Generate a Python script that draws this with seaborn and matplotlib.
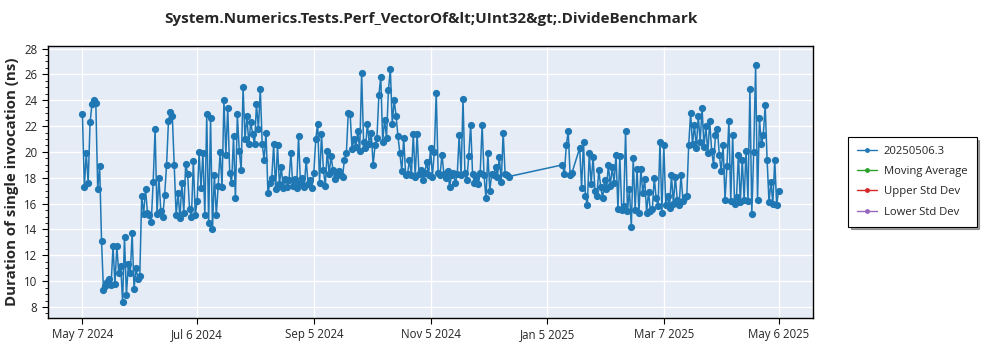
import numpy as np
import pandas as pd
import matplotlib
matplotlib.use("Agg")
import matplotlib.pyplot as plt
import matplotlib.dates as mdates
from matplotlib.lines import Line2D
from matplotlib.ticker import MultipleLocator
import seaborn as sns

# ---------------- data ----------------
title = "System.Numerics.Tests.Perf_VectorOf&lt;UInt32&gt;.DivideBenchmark"
ylabel = "Duration of single invocation (ns)"
series_name = "20250506.3"
legend_labels = ["20250506.3", "Moving Average", "Upper Std Dev", "Lower Std Dev"]

# daily runs, segment 1 starting 2024-05-07
seg1_start = "2024-05-07"
seg1_values = [
    22.9, 17.3, 19.9, 17.6, 22.3, 23.7, 24.0, 23.8, 17.1, 18.9,
    13.1, 9.3, 9.6, 9.9, 10.2, 9.7, 12.7, 9.8, 12.7, 10.6,
    11.2, 8.4, 13.4, 8.9, 11.3, 10.6, 13.7, 9.4, 11.0, 10.2,
    10.4, 16.6, 15.2, 17.1, 15.3, 15.1, 14.6, 17.7, 21.8, 15.2,
    18.0, 15.4, 15.0, 16.7, 19.0, 22.4, 23.1, 22.8, 19.0, 15.1,
    16.8, 14.9, 17.6, 15.3, 19.1, 18.3, 15.6, 15.0, 19.3, 15.1,
    16.2, 20.0, 17.2, 19.9, 15.1, 22.9, 14.5, 22.6, 14.0, 18.2,
    15.1, 17.4, 20.0, 17.3, 24.0, 19.8, 23.4, 18.4, 17.6, 21.2,
    16.4, 22.9, 20.1, 18.6, 25.0, 21.0, 22.8, 20.6, 22.3, 21.4,
    20.6, 23.7, 21.8, 24.9, 20.6, 19.4, 21.5, 16.8, 17.6, 18.0,
    20.6, 17.1, 20.5, 17.5, 18.8, 17.2, 17.9, 17.3, 17.8, 19.9,
    17.4, 17.9, 17.2, 21.2, 17.6, 18.0, 17.3, 19.4, 17.5, 17.8,
    17.2, 18.4, 21.0, 22.2, 17.6, 21.4, 18.6, 17.4, 20.1, 18.3,
    19.7, 18.6, 17.9, 18.2, 18.5, 18.2, 18.1, 19.4, 19.9, 23.0,
    22.9, 20.2, 21.0, 20.4, 21.6, 20.1, 26.1, 20.8, 20.3, 22.2,
    20.6, 21.5, 19.0, 20.5, 21.1, 24.4, 25.8, 20.8, 22.5, 21.1,
    24.8, 26.4, 22.2, 24.0, 22.8, 21.2, 19.9, 18.5, 21.1, 18.2,
    18.3, 19.4, 18.2, 21.4, 18.1, 21.4, 18.3, 18.6, 17.8, 18.4,
    19.2, 18.2, 20.3, 18.1, 20.0, 24.6, 18.4, 18.2, 19.8, 18.3,
    18.0, 18.5, 17.3, 18.2, 18.4, 17.6, 18.3, 21.3, 18.2, 24.1,
    18.4, 17.8, 19.7, 22.1, 18.3, 17.6, 18.1, 17.5, 18.4, 22.1,
    18.2, 16.4, 19.9, 17.0, 18.3, 18.2, 18.8, 18.1, 19.6, 17.7,
    21.5, 18.3, 18.2, 18.1,
]

seg2_start = "2025-01-13"
seg2_values = [19.0, 18.3, 20.5, 21.6, 18.2, 18.4]

seg3_start = "2025-01-22"
seg3_values = [
    20.3, 17.2, 20.8, 16.6, 15.9, 19.9, 17.5, 19.6, 17.0, 16.6,
    18.6, 17.3, 16.4, 17.8, 17.1, 19.0, 17.4, 18.8, 17.6, 19.8,
    15.6, 19.7, 15.5, 15.8, 21.6, 15.4, 17.1, 14.2, 19.5, 15.5,
    18.7, 15.3, 18.7, 16.8, 17.9, 15.3, 16.9, 15.4, 15.6, 18.0,
    16.4, 15.8, 20.8, 15.3, 20.5, 15.9, 16.6, 15.7, 18.2, 16.0,
    18.1, 16.3, 15.9, 18.2, 16.2, 16.5, 16.6, 20.5, 23.0, 20.6,
    22.1, 20.3, 22.8, 20.8, 23.4, 20.4, 22.0, 19.9, 22.4, 20.1,
    19.0, 21.3, 21.8, 19.8, 18.5, 20.5, 16.3, 18.9, 22.4, 16.2,
    21.3, 16.0, 16.5, 19.8, 16.1, 19.4, 16.3, 20.1, 16.2, 24.9,
    15.2, 20.0, 26.7, 16.3, 22.6, 20.6, 21.3, 23.6, 19.4, 16.1,
    17.7, 16.0, 19.4, 15.9, 17.0,
]

xtick_dates = ["2024-05-07", "2024-07-06", "2024-09-05", "2024-11-05",
               "2025-01-05", "2025-03-07", "2025-05-06"]
yticks = [8, 10, 12, 14, 16, 18, 20, 22, 24, 26, 28]

# ---------------- build frame ----------------
dates = []
vals = []
for start, v in [(seg1_start, seg1_values), (seg2_start, seg2_values), (seg3_start, seg3_values)]:
    dates.extend(pd.date_range(start, periods=len(v), freq="D"))
    vals.extend(v)
df = pd.DataFrame({"date": dates, "value": vals, "series": series_name})

# ---------------- plot ----------------
sns.set_style("white")
plt.rcParams["font.family"] = ["Open Sans", "DejaVu Sans"]

fig = plt.figure(figsize=(10, 3.5), dpi=100)
ax = fig.add_axes([0.048, 0.0914, 0.765, 0.7772])
ax.set_facecolor("#E5ECF6")

colors = ["#1f77b4", "#2ca02c", "#d62728", "#9467bd"]
sns.lineplot(data=df, x="date", y="value", ax=ax, color=colors[0],
             marker="o", markersize=5.2, markeredgewidth=0, linewidth=1.1,
             estimator=None, sort=False, legend=False)

ax.set_ylim(7.15, 28.2)
ax.set_xlim(pd.Timestamp("2024-04-19"), pd.Timestamp("2025-05-24"))
ax.set_yticks(yticks)
ax.yaxis.set_minor_locator(MultipleLocator(0.5))
ax.set_xticks(pd.to_datetime(xtick_dates))
ax.xaxis.set_major_formatter(mdates.DateFormatter("%b %-d %Y"))

ax.grid(True, which="major", color="white", linewidth=1.0)
ax.set_axisbelow(True)
for s in ax.spines.values():
    s.set_color("black")
    s.set_linewidth(1.0)
ax.tick_params(axis="both", which="major", labelsize=8.3, length=4, width=0.8,
               color="black", direction="out", left=True, bottom=True)
ax.tick_params(axis="y", which="minor", length=2, width=0.6, color="black", left=True)

ax.set_xlabel("")
ax.set_ylabel(ylabel, fontsize=10.8, fontweight="bold", labelpad=4)
fig.suptitle(title, x=0.4305, y=0.965, fontsize=11, fontweight="bold")

handles = [Line2D([0], [0], color=c, marker="o", markersize=3.5, linewidth=1.0,
                  markeredgewidth=0) for c in colors]
leg = fig.legend(handles, legend_labels, loc="upper left",
                 bbox_to_anchor=(0.848, 0.609), bbox_transform=fig.transFigure,
                 borderaxespad=0.0,
                 fontsize=8.1, frameon=True, fancybox=False, shadow=True,
                 edgecolor="black", handlelength=1.8, handletextpad=0.6,
                 borderpad=0.8, labelspacing=0.82)
leg.get_frame().set_linewidth(0.8)

fig.savefig("out.png", dpi=100)
